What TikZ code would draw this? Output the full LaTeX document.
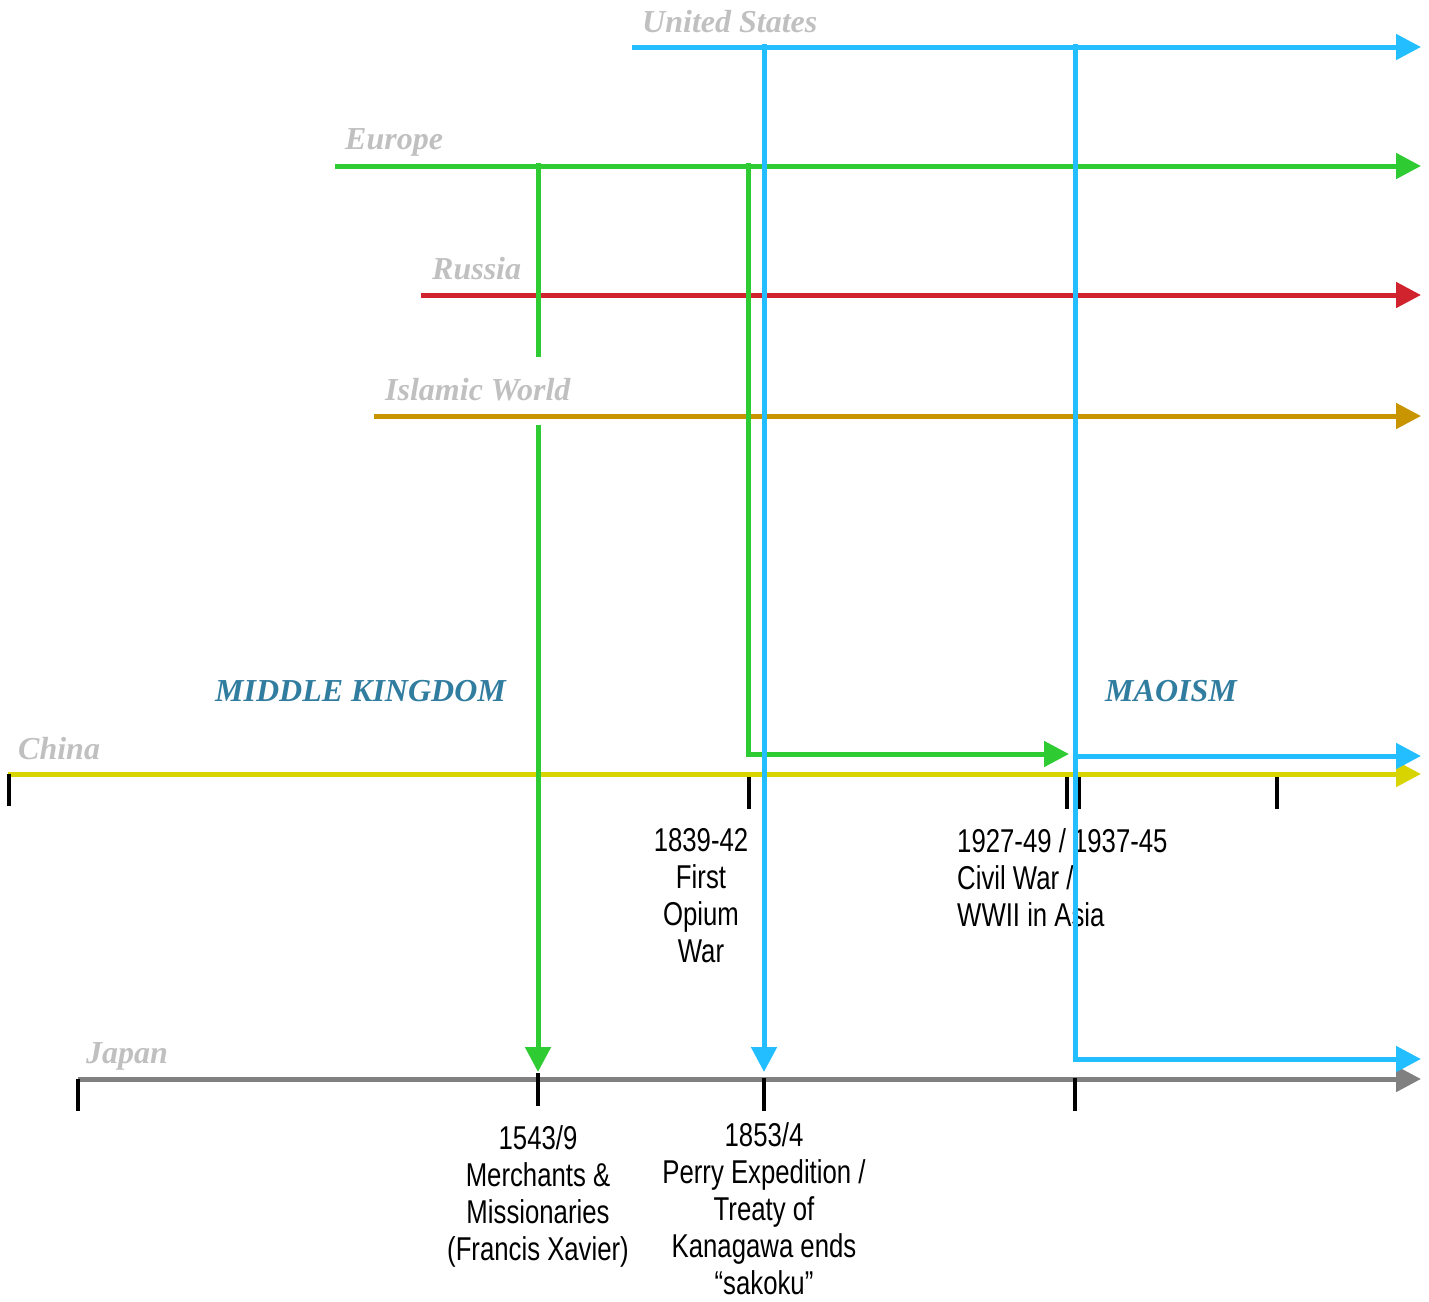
\documentclass[tikz,border=0pt]{standalone}
\usepackage{fontspec}
\setmainfont{Liberation Serif}
\newfontfamily\lblfont[FakeStretch=0.78]{Liberation Sans}
\usetikzlibrary{arrows.meta}
\definecolor{cblue}{RGB}{34,190,255}
\definecolor{cgreen}{RGB}{46,204,50}
\definecolor{cred}{RGB}{208,35,45}
\definecolor{cgold}{RGB}{200,148,0}
\definecolor{cyellow}{RGB}{216,212,0}
\definecolor{cjapan}{RGB}{128,128,128}
\definecolor{lblgray}{RGB}{192,192,192}
\definecolor{eratext}{RGB}{49,125,160}
\begin{document}
\begin{tikzpicture}[x=1pt,y=-1pt,
  tl/.style={line width=5pt},
  tipped/.style={tl,-{Triangle[length=25pt,width=25pt]}},
  tickmark/.style={line width=4pt,black},
  region/.style={font=\bfseries\itshape\fontsize{32}{38}\selectfont,text=lblgray,inner sep=0pt,anchor=base west},
  era/.style={font=\bfseries\itshape\fontsize{32}{38}\selectfont,text=eratext,inner sep=0pt,anchor=base west},
  event/.style={font=\lblfont\fontsize{33}{37.2}\selectfont,inner sep=0pt,align=center,anchor=north}]
\useasboundingbox (0,0) rectangle (1429,1301);
% start/end points of the lines
\coordinate (usS) at (632,47);   \coordinate (usE) at (1421,47);
\coordinate (euS) at (335,166);  \coordinate (euE) at (1421,166);
\coordinate (ruS) at (421,295);  \coordinate (ruE) at (1421,295);
\coordinate (isS) at (374,416);  \coordinate (isE) at (1421,416);
\coordinate (chS) at (8,774);    \coordinate (chE) at (1421,774);
\coordinate (jpS) at (78,1079);  \coordinate (jpE) at (1421,1079);
% horizontal lines
\draw[tipped,cblue] (usS) -- (usE);
\draw[tipped,cgreen] (euS) -- (euE);
\draw[tipped,cred] (ruS) -- (ruE);
\draw[tipped,cgold] (isS) -- (isE);
\draw[tipped,cyellow] (chS) -- (chE);
\draw[tipped,cjapan] (jpS) -- (jpE);
% ticks
\coordinate (t1a) at (9,774);    \coordinate (t1b) at (9,806);
\coordinate (t2a) at (749,777);  \coordinate (t2b) at (749,809);
\coordinate (t3a) at (1067,777); \coordinate (t3b) at (1067,809);
\coordinate (t4a) at (1079,777); \coordinate (t4b) at (1079,809);
\coordinate (t5a) at (1277,777); \coordinate (t5b) at (1277,809);
\coordinate (j1a) at (78,1079);  \coordinate (j1b) at (78,1111);
\coordinate (j2a) at (538,1073); \coordinate (j2b) at (538,1106);
\coordinate (j3a) at (764,1078); \coordinate (j3b) at (764,1111);
\coordinate (j4a) at (1075,1078);\coordinate (j4b) at (1075,1111);
\foreach \t in {t1,t2,t3,t4,t5,j1,j2,j3,j4}{\draw[tickmark] (\t a) -- (\t b);}
% region labels
\node[region] (lus) at (642,32) {United States};
\node[region] (leu) at (345,149) {Europe};
\node[region] (lru) at (432,279) {Russia};
\node[region] (lis) at (385,400) {Islamic World};
\node[region] (lch) at (18,759) {China};
\node[region] (ljp) at (86,1063) {Japan};
\node[era] (mk) at (215,701) {MIDDLE KINGDOM};
\node[era] (mao) at (1105,701) {MAOISM};
% event labels
\node[event] (opium) at (701,828) {1839-42\\First\\Opium\\War};
\node[event,align=left,anchor=north west] (civil) at (957,828) {1927-49 / 1937-45\\Civil War /\\WWII in Asia};
\node[event] (xavier) at (538,1125) {1543/9\\Merchants \&\\Missionaries\\(Francis Xavier)};
\node[event] (perry) at (764,1122) {1853/4\\Perry Expedition /\\Treaty of\\Kanagawa ends\\“sakoku”};
% green verticals
\coordinate (g1a) at (538,163); \coordinate (g1b) at (538,357);
\coordinate (g1c) at (538,425); \coordinate (g1d) at (538,1072);
\draw[tl,cgreen] (g1a) -- (g1b);
\draw[tipped,cgreen] (g1c) -- (g1d);
\coordinate (g2a) at (748,163); \coordinate (g2b) at (748,754); \coordinate (g2c) at (1069,754);
\draw[tipped,cgreen] (g2a) -- (g2b) -- (g2c);
% blue verticals
\coordinate (b1a) at (764,44); \coordinate (b1b) at (764,1072);
\draw[tipped,cblue] (b1a) -- (b1b);
\coordinate (b2a) at (1075,44); \coordinate (b2b) at (1075,1059); \coordinate (b2c) at (1421,1059);
\draw[tipped,cblue] (b2a) -- (b2b) -- (b2c);
\coordinate (b3a) at (1075,756); \coordinate (b3b) at (1421,756);
\draw[tipped,cblue] (b3a) -- (b3b);
\end{tikzpicture}
\end{document}
